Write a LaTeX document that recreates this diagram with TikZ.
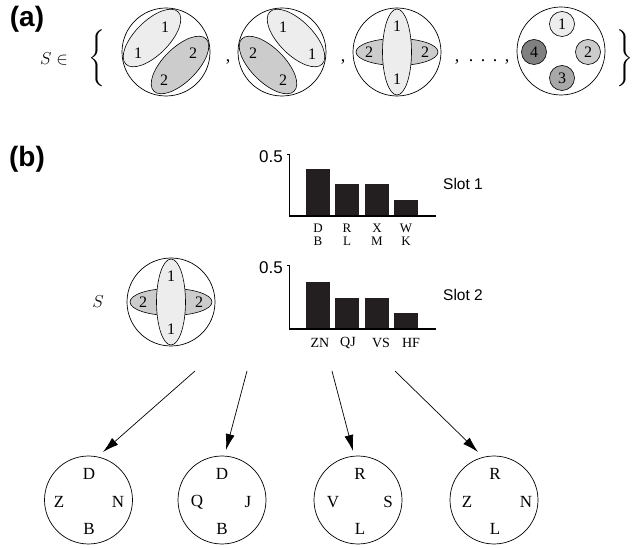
\documentclass[tikz,border=0pt]{standalone}
\usepackage{fontspec}
\usepackage{graphicx}
\setmainfont{Liberation Serif}
\setsansfont{Liberation Sans}
\usetikzlibrary{arrows.meta}
\definecolor{lg}{gray}{0.93}
\definecolor{mg}{gray}{0.80}
\definecolor{dg}{gray}{0.66}
\definecolor{vdg}{gray}{0.50}
\definecolor{barc}{HTML}{231F20}
\tikzset{
  outer/.style={circle,draw,line width=0.7pt,minimum size=88pt,inner sep=0pt},
  ell/.style={draw,line width=0.6pt},
  num/.style={font=\fontsize{16}{16}\selectfont,inner sep=0pt},
  smallc/.style={circle,draw,line width=0.6pt,minimum size=25pt,inner sep=0pt,font=\fontsize{16}{16}\selectfont},
  lett/.style={font=\fontsize{17}{17}\selectfont,inner sep=0pt},
  punct/.style={font=\fontsize{18}{18}\selectfont,inner sep=0pt},
  barlab/.style={font=\fontsize{14}{14}\selectfont,inner sep=0pt},
  stacklab/.style={font=\fontsize{13}{13}\selectfont,inner sep=0pt},
  sanslab/.style={font=\sffamily\fontsize{15.5}{15.5}\selectfont,inner sep=0pt},
  ticklab/.style={font=\sffamily\fontsize{17}{17}\selectfont,inner sep=0pt},
  panel/.style={font=\sffamily\bfseries\fontsize{28}{28}\selectfont,inner sep=0pt},
  mathlab/.style={font=\fontsize{18}{18}\selectfont,inner sep=0pt},
  bar/.style={fill=barc},
  arr/.style={line width=0.7pt,-{Latex[length=16pt,width=9pt]}},
  crosspart/.pic={
    \node[outer] (-o) at (0,0) {};
    \draw[ell,fill=mg] (0,0) ellipse [x radius=41,y radius=13.5];
    \draw[ell,fill=lg] (0,0) ellipse [x radius=14.5,y radius=43];
    \node[num] (-l) at (-28,0) {2};
    \node[num] (-r) at (28,0) {2};
    \node[num] (-t) at (0,-26) {1};
    \node[num] (-b) at (0,27) {1};
  }
}
\begin{document}
\begin{tikzpicture}[x=1pt,y=-1pt]
\useasboundingbox (0,0) rectangle (633,548);
% ---------- panel (a) ----------
\node[panel] (pa) at (27,19) {(a)};
\node[mathlab] (sin) at (54,59) {$S\in$};
\node[inner sep=0pt] (lbr) at (97,58) {\scalebox{2.1}[1.9]{$\Bigg\{$}};
\node[inner sep=0pt,anchor=east] (rbr) at (634,58) {\scalebox{2.1}[1.9]{$\Bigg\}$}};
% circle 1
\node[outer] (c1) at (166,52) {};
\draw[ell,fill=lg,rotate around={45:(152,38)}] (152,38) ellipse [x radius=37,y radius=17];
\draw[ell,fill=mg,rotate around={45:(180,65)}] (180,65) ellipse [x radius=37,y radius=17];
\node[num] (c1a) at (165,27) {1};
\node[num] (c1b) at (138,53) {1};
\node[num] (c1c) at (193,53) {2};
\node[num] (c1d) at (164,80) {2};
\node[punct,anchor=base] (cm1) at (228,62) {,};
% circle 2
\node[outer] (c2) at (282,52) {};
\draw[ell,fill=lg,rotate around={-45:(296,38)}] (296,38) ellipse [x radius=37,y radius=17];
\draw[ell,fill=mg,rotate around={-45:(268,65)}] (268,65) ellipse [x radius=37,y radius=17];
\node[num] (c2a) at (283,27) {1};
\node[num] (c2b) at (312,54) {1};
\node[num] (c2c) at (253,53) {2};
\node[num] (c2d) at (283,80) {2};
\node[punct,anchor=base] (cm2) at (343,62) {,};
% circle 3
\pic (c3) at (397,52) {crosspart};
\node[punct,anchor=base] (cm3) at (457,62) {,};
\node[punct,anchor=base] (d1) at (471,62) {.};
\node[punct,anchor=base] (d2) at (483,62) {.};
\node[punct,anchor=base] (d3) at (495,62) {.};
\node[punct,anchor=base] (cm4) at (507,62) {,};
% circle 4
\node[outer] (c4) at (561,51) {};
\node[smallc,fill=lg] (c4a) at (562,24) {1};
\node[smallc,fill=mg] (c4b) at (588,52) {2};
\node[smallc,fill=dg] (c4c) at (562,78) {3};
\node[smallc,fill=vdg] (c4d) at (534,52) {4};
% ---------- panel (b) ----------
\node[panel] (pb) at (27,159) {(b)};
\node[mathlab] (slab) at (98,302) {$S$};
\pic (sp) at (171,302) {crosspart};
% chart 1
\node[ticklab,anchor=east] (y1) at (283,157) {0.5};
\draw[line width=0.8pt] (287,154) -- (289,154) -- (289,216);
\fill[bar] (306,169) rectangle (330,216);
\fill[bar] (335,184) rectangle (359,216);
\fill[bar] (365,184) rectangle (389,216);
\fill[bar] (394,200) rectangle (418,216);
\draw[line width=1.2pt] (289,216) -- (436,216);
\node[stacklab] (l11a) at (318,228) {D};
\node[stacklab] (l11b) at (318,241) {B};
\node[stacklab] (l12a) at (347,228) {R};
\node[stacklab] (l12b) at (347,241) {L};
\node[stacklab] (l13a) at (377,228) {X};
\node[stacklab] (l13b) at (377,241) {M};
\node[stacklab] (l14a) at (406,228) {W};
\node[stacklab] (l14b) at (406,241) {K};
\node[sanslab,anchor=west] (s1) at (443,184) {Slot 1};
% chart 2
\node[ticklab,anchor=east] (y2) at (283,268) {0.5};
\draw[line width=0.8pt] (287,265) -- (289,265) -- (289,329);
\fill[bar] (306,282) rectangle (330,329);
\fill[bar] (335,298) rectangle (359,329);
\fill[bar] (365,298) rectangle (389,329);
\fill[bar] (394,313) rectangle (418,329);
\draw[line width=1.2pt] (289,329) -- (436,329);
\node[barlab] (l21) at (320,343) {ZN};
\node[barlab] (l22) at (348,343) {QJ};
\node[barlab] (l23) at (381,343) {VS};
\node[barlab] (l24) at (411,343) {HF};
\node[sanslab,anchor=west] (s2) at (443,295) {Slot 2};
% bottom circles
\node[outer] (b1) at (88.5,500) {};
\node[lett] (b1t) at (89,474) {D};
\node[lett] (b1l) at (59,502) {Z};
\node[lett] (b1r) at (118,502) {N};
\node[lett] (b1b) at (89,529) {B};
\node[outer] (b2) at (222,500) {};
\node[lett] (b2t) at (222,474) {D};
\node[lett] (b2l) at (197,502) {Q};
\node[lett] (b2r) at (248,502) {J};
\node[lett] (b2b) at (222,529) {B};
\node[outer] (b3) at (358,500) {};
\node[lett] (b3t) at (360,474) {R};
\node[lett] (b3l) at (333,502) {V};
\node[lett] (b3r) at (388,502) {S};
\node[lett] (b3b) at (360,529) {L};
\node[outer] (b4) at (494,500) {};
\node[lett] (b4t) at (495,474) {R};
\node[lett] (b4l) at (467,502) {Z};
\node[lett] (b4r) at (526,502) {N};
\node[lett] (b4b) at (495,529) {L};
% arrows
\coordinate (a1s) at (195,371);
\coordinate (a1e) at (103,452);
\coordinate (a2s) at (247,371);
\coordinate (a2e) at (226,450);
\coordinate (a3s) at (332,371);
\coordinate (a3e) at (353,451);
\coordinate (a4s) at (395,371);
\coordinate (a4e) at (478,452);
\draw[arr] (a1s) -- (a1e);
\draw[arr] (a2s) -- (a2e);
\draw[arr] (a3s) -- (a3e);
\draw[arr] (a4s) -- (a4e);
\end{tikzpicture}
\end{document}
